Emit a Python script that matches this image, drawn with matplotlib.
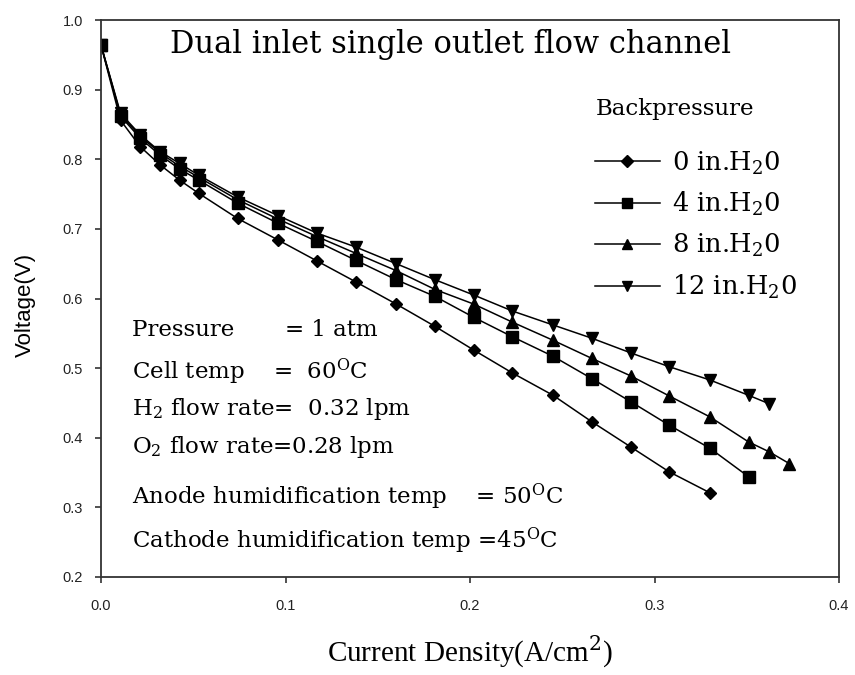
import matplotlib
matplotlib.use("Agg")
import matplotlib.pyplot as plt

# Current density (A/cm^2) sampled on the test stand
current = [0.0, 0.0106, 0.0213, 0.032, 0.0426, 0.053, 0.074, 0.096, 0.117,
           0.138, 0.160, 0.181, 0.202, 0.223, 0.245, 0.266, 0.287, 0.308,
           0.330, 0.351, 0.362, 0.373]

# Cell voltage (V) for each backpressure setting
v_0in = [0.964, 0.856, 0.818, 0.792, 0.770, 0.751, 0.715, 0.684, 0.654,
         0.624, 0.592, 0.560, 0.526, 0.493, 0.461, 0.423, 0.387, 0.351,
         0.321]
v_4in = [0.964, 0.862, 0.830, 0.806, 0.786, 0.770, 0.737, 0.708, 0.682,
         0.655, 0.627, 0.603, 0.573, 0.545, 0.517, 0.485, 0.452, 0.418,
         0.385, 0.344]
v_8in = [0.964, 0.864, 0.833, 0.809, 0.790, 0.774, 0.742, 0.714, 0.689,
         0.665, 0.640, 0.613, 0.592, 0.566, 0.540, 0.514, 0.489, 0.460,
         0.430, 0.394, 0.380, 0.363]
v_12in = [0.964, 0.866, 0.835, 0.811, 0.794, 0.777, 0.746, 0.719, 0.694,
          0.674, 0.650, 0.627, 0.605, 0.582, 0.562, 0.543, 0.522, 0.502,
          0.483, 0.461, 0.449]

series_labels = [r"0 in.H$_2$0", r"4 in.H$_2$0", r"8 in.H$_2$0", r"12 in.H$_2$0"]
x_ticks = [0.0, 0.1, 0.2, 0.3, 0.4]
y_ticks = [0.2, 0.3, 0.4, 0.5, 0.6, 0.7, 0.8, 0.9, 1.0]

plt.rcParams["mathtext.fontset"] = "dejavuserif"
SERIF = "DejaVu Serif"
SANS = "Liberation Sans"

W, H = 855, 675
fig = plt.figure(figsize=(W / 100, H / 100), dpi=100)
L, R, T, B = 101, 839, 20, 577
ax = fig.add_axes([L / W, 1 - B / H, (R - L) / W, (B - T) / H])

styles = [("D", 6.5), ("s", 8.5), ("^", 9), ("v", 9)]
for vals, lab, (mk, ms) in zip([v_0in, v_4in, v_8in, v_12in], series_labels, styles):
    ax.plot(current[:len(vals)], vals, color="black", lw=1.1, marker=mk,
            markersize=ms, markerfacecolor="black", markeredgecolor="black",
            label=lab)

ax.set_xlim(0.0, 0.4)
ax.set_ylim(0.2, 1.0)
ax.set_xticks(x_ticks)
ax.set_yticks(y_ticks)
ax.set_xticklabels([f"{t:.1f}" for t in x_ticks], fontfamily=SANS, fontsize=10.5)
ax.set_yticklabels([f"{t:.1f}" for t in y_ticks], fontfamily=SANS, fontsize=10.5)
ax.tick_params(axis="both", direction="out", length=4, width=1.1,
               colors="#222222")
ax.tick_params(axis="x", pad=12)
ax.tick_params(axis="y", pad=9)
for sp in ax.spines.values():
    sp.set_linewidth(1.3)
    sp.set_color("#333333")

ax.set_xlabel(r"Current Density(A/cm$^2$)", fontfamily="Liberation Serif",
              fontsize=21)
ax.xaxis.set_label_coords((470 - L) / (R - L), (B - 652) / (B - T))
ax.xaxis.label.set_va("center")
ax.set_ylabel("Voltage(V)", fontfamily=SANS, fontsize=16)
ax.yaxis.set_label_coords((25 - L) / (R - L), 1 - (305 - T) / (B - T))
ax.yaxis.label.set_va("center")

leg = ax.legend(loc="upper left",
                bbox_to_anchor=((585 - L) / (R - L), 1 - (88 - T) / (B - T)),
                frameon=False, title="Backpressure", handlelength=2.5,
                handletextpad=0.5, labelspacing=0.53, borderaxespad=0,
                prop={"family": SERIF, "size": 18.5},
                title_fontproperties={"family": SERIF, "size": 16.5})
leg._legend_box.align = "left"
leg._legend_box.sep = 21
for h in leg.legend_handles:
    h.set_markersize(6.5)


def ftext(x, y, s, **kw):
    fig.text(x / W, 1 - y / H, s, fontfamily=SERIF, va="center", **kw)


ftext(450, 45, "Dual inlet single outlet flow channel", fontsize=22, ha="center")
ftext(132, 330, "Pressure       = 1 atm", fontsize=16.5)
ftext(132, 372, r"Cell temp    =  60$^{\mathrm{O}}$C", fontsize=16.5)
ftext(132, 409, r"H$_2$ flow rate=  0.32 lpm", fontsize=16.5)
ftext(132, 447, r"O$_2$ flow rate=0.28 lpm", fontsize=16.5)
ftext(132, 497, r"Anode humidification temp    = 50$^{\mathrm{O}}$C", fontsize=16.5)
ftext(132, 541, r"Cathode humidification temp =45$^{\mathrm{O}}$C", fontsize=16.5)

fig.savefig("out.png", dpi=100)
